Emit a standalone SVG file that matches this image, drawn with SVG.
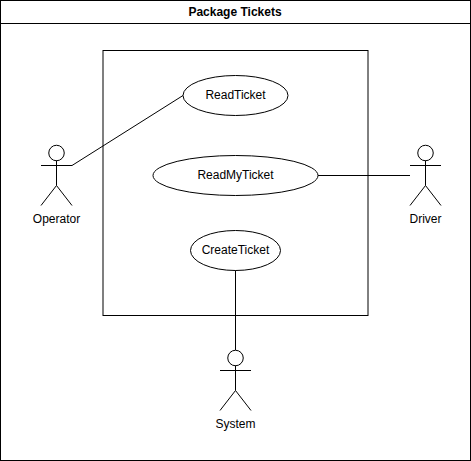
<svg xmlns="http://www.w3.org/2000/svg" width="471" height="461" viewBox="0 0 471 461">
<style>
.s{fill:none;stroke:#000;stroke-width:1}
.e{fill:#fff;stroke:#000;stroke-width:1}
text{font-family:"Liberation Sans",Arial,sans-serif;font-size:12px;fill:#000;text-anchor:middle}
.b{font-weight:bold}
</style>
<rect width="471" height="461" fill="#fff"/>
<g id="package"><rect class="s" x="0.5" y="0.5" width="470" height="460"/><line class="s" x1="0.5" y1="23.5" x2="470.5" y2="23.5"/><text class="b" x="235" y="16">Package Tickets</text></g>
<g id="boundary"><rect class="s" x="103" y="50.5" width="265" height="265"/></g>
<g id="connectors">
<line class="s" x1="72" y1="165.5" x2="183" y2="95.5"/>
<line class="s" x1="318" y1="175.5" x2="410" y2="175.5"/>
<line class="s" x1="235.5" y1="270" x2="235.5" y2="350"/>
</g>
<g id="readticket"><ellipse class="e" cx="235.5" cy="95.5" rx="52.5" ry="20"/><text x="235.5" y="99">ReadTicket</text></g>
<g id="readmyticket"><ellipse class="e" cx="235.5" cy="175.5" rx="82.5" ry="20"/><text x="235.5" y="179">ReadMyTicket</text></g>
<g id="createticket"><ellipse class="e" cx="235.5" cy="250.5" rx="45" ry="20"/><text x="235.5" y="254">CreateTicket</text></g>
<g id="operator"><circle class="e" cx="56.5" cy="153" r="7.75"/><path class="s" d="M56.5 160.5V185.500M41 165.500H72M56.500 185.500L41 205.500M56.500 185.500L72 205.500"/><text x="56.5" y="223">Operator</text></g>
<g id="driver"><circle class="e" cx="425.5" cy="153" r="7.75"/><path class="s" d="M425.5 160.500V185.500M410 165.500H441M425.500 185.500L410 205.500M425.500 185.500L441 205.500"/><text x="425.5" y="223">Driver</text></g>
<g id="system"><circle class="e" cx="235.500" cy="358" r="7.750"/><path class="s" d="M235.500 365.500V390.500M220 370.500H251M235.500 390.500L220 410.500M235.500 390.500L251 410.500"/><text x="235.500" y="428">System</text></g>
</svg>
